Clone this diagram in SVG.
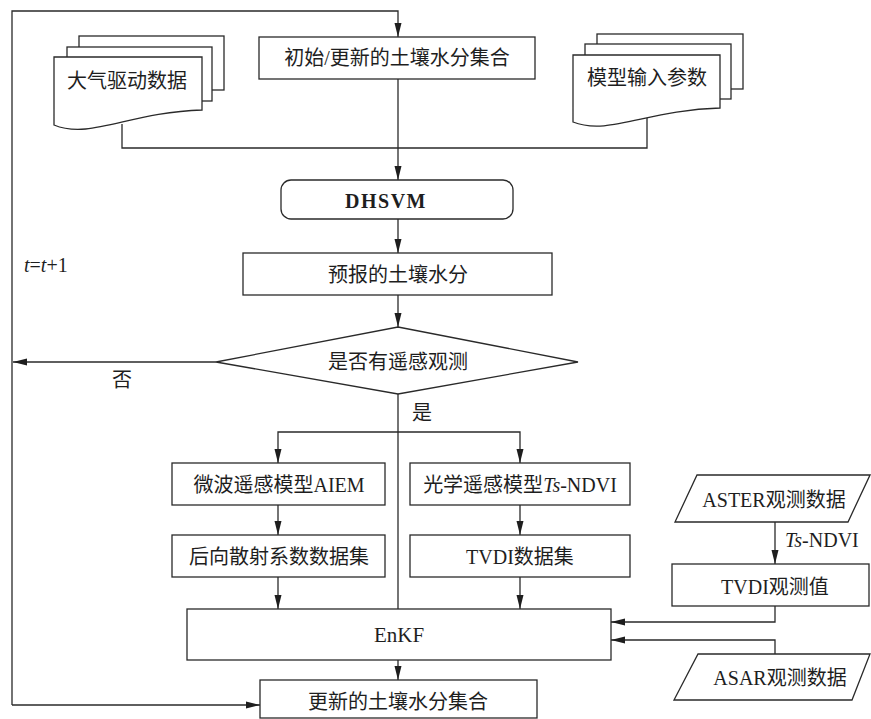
<svg xmlns="http://www.w3.org/2000/svg" width="871" height="719" viewBox="0 0 871 719">
<style>
.s{fill:#fff;stroke:#2a2a2a;stroke-width:1.3}
.c{fill:none;stroke:#2a2a2a;stroke-width:1.3}
text{font-family:"Liberation Serif","Noto Sans CJK SC",serif;font-size:20px;fill:#1e1e1e}
.m{text-anchor:middle}
.i{font-style:italic}
</style>
<defs>
<marker id="ah" markerUnits="userSpaceOnUse" markerWidth="15" markerHeight="8" refX="14" refY="4" orient="auto">
<path d="M0,0.5 L14,4 L0,7.5 Z" fill="#1e1e1e"/>
</marker>
</defs>
<rect width="871" height="719" fill="#fff"/>
<g id="connectors">
<path class="c" d="M12,705 V11 H398 V37" marker-end="url(#ah)"/>
<path class="c" d="M398,79 V180" marker-end="url(#ah)"/>
<path class="c" d="M122,124 V148 H647 V118"/>
<path class="c" d="M398,219 V253" marker-end="url(#ah)"/>
<path class="c" d="M398,295 V327" marker-end="url(#ah)"/>
<path class="c" d="M216,362 H13" marker-end="url(#ah)"/>
<path class="c" d="M398,394 V609"/>
<path class="c" d="M398,432 H278 V463" marker-end="url(#ah)"/>
<path class="c" d="M398,432 H520 V463" marker-end="url(#ah)"/>
<path class="c" d="M278,505 V535" marker-end="url(#ah)"/>
<path class="c" d="M520,505 V535" marker-end="url(#ah)"/>
<path class="c" d="M278,577 V609" marker-end="url(#ah)"/>
<path class="c" d="M520,577 V609" marker-end="url(#ah)"/>
<path class="c" d="M775,522 V564" marker-end="url(#ah)"/>
<path class="c" d="M775,606 V622 H611" marker-end="url(#ah)"/>
<path class="c" d="M775,654 V640 H611" marker-end="url(#ah)"/>
<path class="c" d="M398,660 V680" marker-end="url(#ah)"/>
<path class="c" d="M12,705 H260" marker-end="url(#ah)"/>
<text x="24" y="272" style="font-size:20px"><tspan class="i">t</tspan>=<tspan class="i">t</tspan>+1</text>
<text class="m" x="122" y="387">否</text>
<text class="m" x="422" y="420">是</text>
<text x="785" y="547"><tspan class="i">Ts</tspan>-NDVI</text>
</g>
<g id="n-init">
<rect class="s" x="259" y="37" width="276" height="42"/>
<text class="m" x="397" y="65">初始/更新的土壤水分集合</text>
</g>
<g id="n-forcing">
<rect class="s" x="79" y="36" width="145" height="54"/>
<rect class="s" x="67" y="47" width="145" height="54"/>
<path class="s" d="M54,57 H202 V110 C130,112 90,140 54,125 Z"/>
<text class="m" x="127" y="88">大气驱动数据</text>
</g>
<g id="n-params">
<rect class="s" x="597" y="34" width="146" height="55"/>
<rect class="s" x="585" y="44" width="146" height="55"/>
<path class="s" d="M573,55 H720 V108 C648,110 608,136 573,122 Z"/>
<text class="m" x="647" y="85">模型输入参数</text>
</g>
<g id="n-dhsvm">
<rect class="s" x="281" y="180" width="232" height="39" rx="10"/>
<text class="m" x="386" y="208" style="font-weight:bold;letter-spacing:1.5px">DHSVM</text>
</g>
<g id="n-forecast">
<rect class="s" x="243" y="253" width="309" height="42"/>
<text class="m" x="398" y="282">预报的土壤水分</text>
</g>
<g id="n-decision">
<path class="s" d="M398,327 L578,362 L398,394 L216,362 Z"/>
<text class="m" x="398" y="369">是否有遥感观测</text>
</g>
<g id="n-aiem">
<rect class="s" x="172" y="463" width="213" height="42"/>
<text class="m" x="279" y="492">微波遥感模型AIEM</text>
</g>
<g id="n-tsndvi">
<rect class="s" x="410" y="463" width="220" height="42"/>
<text class="m" x="520" y="492">光学遥感模型<tspan class="i">Ts</tspan>-NDVI</text>
</g>
<g id="n-backscatter">
<rect class="s" x="172" y="535" width="213" height="42"/>
<text class="m" x="279" y="564">后向散射系数数据集</text>
</g>
<g id="n-tvdi">
<rect class="s" x="410" y="535" width="220" height="42"/>
<text class="m" x="520" y="564">TVDI数据集</text>
</g>
<g id="n-enkf">
<rect class="s" x="187" y="609" width="424" height="51"/>
<text class="m" x="399" y="642" style="font-size:21px">EnKF</text>
</g>
<g id="n-updated">
<rect class="s" x="260" y="680" width="277" height="38"/>
<text class="m" x="398" y="709">更新的土壤水分集合</text>
</g>
<g id="n-aster">
<path class="s" d="M697,475 H870 L848,522 H675 Z"/>
<text class="m" x="774" y="507">ASTER观测数据</text>
</g>
<g id="n-tvdiobs">
<rect class="s" x="672" y="564" width="197" height="42"/>
<text class="m" x="775" y="594">TVDI观测值</text>
</g>
<g id="n-asar">
<path class="s" d="M698,654 H870 L852,700 H674 Z"/>
<text class="m" x="780" y="685">ASAR观测数据</text>
</g>
</svg>
